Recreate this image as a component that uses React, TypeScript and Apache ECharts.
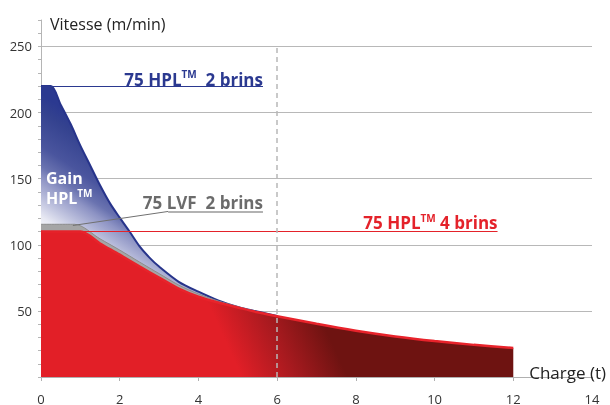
import React, { useEffect, useRef } from 'react';
import * as echarts from 'echarts';

const FONT = '"Open Sans", "Noto Sans", sans-serif';

// x axis (Charge, t) and y axis (Vitesse, m/min)
const xMin = 0;
const xMax = 14;
const xStep = 2;
const yMax = 270;
const yMinorStep = 10;
const yLabelStep = 50;
const yLabelTop = 250;

// 75 HPL(TM) 2 brins
const blueX = [0, 0.25, 0.5, 0.75, 1, 1.25, 1.5, 1.75, 2, 2.25, 2.5, 2.75, 3, 3.5, 4, 4.5, 5, 5.5, 6];
const blueY = [220, 220, 206, 191.5, 175, 160, 145, 131.5, 120.5, 110, 99, 90.5, 83.5, 72, 64.5, 58, 53, 49.5, 46.2];
// 75 LVF 2 brins
const grayX = [0, 0.85, 1.5, 2, 2.5, 3, 3.5, 4, 4.5, 5, 5.5];
const grayY = [115.5, 115.5, 104.5, 96, 87, 78.2, 69.5, 62.8, 57.5, 53.2, 49.3];
// 75 HPL(TM) 4 brins
const redX = [0, 1, 1.5, 2, 2.5, 3, 3.5, 4, 4.5, 5, 5.5, 6, 7, 8, 9, 10, 11, 12];
const redY = [110, 110, 101, 92.5, 83.7, 75.2, 66.8, 60.7, 56.3, 52.6, 49, 46, 40.2, 35, 30.7, 27.2, 24.3, 22];

// leader lines of the labels
const blueLeader = [[0, 220], [5.64, 220]];
const redLeader = [[0, 110], [11.6, 110]];
const grayLeader = [[0.81, 114.6], [3.23, 125.2], [5.64, 125.2]];
const refX = 6;
const refTop = 250;

// label texts: [before superscript, superscript, after]
const blueLabel = ['75 HPL', 'TM', '  2 brins'];
const grayLabel = ['75 LVF  2 brins', '', ''];
const redLabel = ['75 HPL', 'TM', ' 4 brins'];

// gradient directions (start, end) in chart coordinates
const blueGrad = [[0, 111.1], [1.61, 181.5]];
const redGrad = [[5.13, -2.2], [7.36, 28.1]];
const blueStops = [
  [0, '#f8f8fc'], [0.1, '#e8e9f3'], [0.2, '#c8cbe3'], [0.39, '#8d93c4'],
  [0.47, '#6a73b0'], [0.62, '#4a559e'], [0.88, '#34428f'], [1, '#2b3990'],
];
const redStops = [[0, '#e21f27'], [0.5, '#a81a1f'], [1, '#6e1311']];

const pairs = (xs: number[], ys: number[]) => xs.map((x, i) => [x, ys[i]]);

export default function App() {
  const ref = useRef<HTMLDivElement>(null);
  useEffect(() => {
    if (!ref.current) return;
    const chart = echarts.init(ref.current, null, { renderer: 'svg' });
    const seg = (a: number[], b: number[], lineStyle: any) => [{ coord: a, lineStyle }, { coord: b, lineStyle }];
    chart.setOption({
      animation: false,
      grid: { left: 41, right: 18, top: 20, bottom: 20, containLabel: false },
      xAxis: {
        type: 'value',
        min: xMin,
        max: xMax,
        interval: xStep,
        axisLine: { lineStyle: { color: '#b0b0b0', width: 1 } },
        axisTick: { show: true, length: 4, lineStyle: { color: '#b0b0b0' } },
        axisLabel: { margin: 15, fontSize: 13, color: '#333', fontFamily: FONT },
        splitLine: { show: false },
      },
      yAxis: [
        {
          type: 'value',
          min: 0,
          max: yMax,
          interval: yMinorStep,
          axisLine: { show: true, lineStyle: { color: '#b5b5b5', width: 1 } },
          axisTick: { show: true, length: 3, lineStyle: { color: '#b5b5b5' } },
          axisLabel: {
            margin: 9,
            fontSize: 13,
            color: '#333',
            fontFamily: FONT,
            formatter: (v: number) => (v > 0 && v <= yLabelTop && v % yLabelStep === 0 ? String(v) : ''),
          },
          splitLine: { show: false },
        },
        {
          type: 'value',
          position: 'left',
          min: 0,
          max: yMax,
          interval: yLabelStep,
          axisLine: { show: false },
          axisTick: { show: false },
          axisLabel: { show: false },
          splitLine: { show: true, showMinLine: false, showMaxLine: false, lineStyle: { color: '#b8b8b8', width: 1 } },
        },
      ],
      series: [
        {
          id: 'blue',
          type: 'line',
          data: pairs(blueX, blueY),
          smooth: 0.3,
          symbol: 'none',
          lineStyle: { color: '#27348b', width: 2 },
          areaStyle: { opacity: 1, color: '#6a73b0' },
          markLine: {
            silent: true,
            symbol: ['none', 'none'],
            label: { show: false },
            lineStyle: { type: 'solid', color: '#2b3990', width: 1 },
            data: [seg(blueLeader[0], blueLeader[1], { type: 'solid', color: '#2b3990', width: 1 })],
          },
        },
        {
          id: 'gray',
          type: 'line',
          data: pairs(grayX, grayY),
          smooth: 0.3,
          symbol: 'none',
          lineStyle: { color: '#8c8c8c', width: 1 },
          areaStyle: { opacity: 1, color: '#a5a5a5' },
          markLine: {
            silent: true,
            symbol: ['none', 'none'],
            label: { show: false },
            lineStyle: { type: 'solid', color: '#808080', width: 1 },
            data: [
              seg(grayLeader[0], grayLeader[1], { type: 'solid', color: '#707070', width: 1 }),
              seg(grayLeader[1], grayLeader[2], { type: 'solid', color: '#999', width: 1.5 }),
            ],
          },
        },
        {
          id: 'red',
          type: 'line',
          data: pairs(redX, redY),
          smooth: 0.3,
          symbol: 'none',
          lineStyle: { color: '#e8232b', width: 2.5 },
          areaStyle: { opacity: 1, color: '#e21f27' },
          markLine: {
            silent: true,
            symbol: ['none', 'none'],
            label: { show: false },
            lineStyle: { type: 'solid', color: '#e4222a', width: 1.2, opacity: 1 },
            data: [
              seg(redLeader[0], redLeader[1], { type: 'solid', color: '#e4222a', width: 1.2, opacity: 1 }),
              seg([refX, 0], [refX, refTop], { type: [5, 4], color: '#b8b8b8', width: 1.5 }),
            ],
          },
        },
      ],
    });

    const px = (p: number[]) => chart.convertToPixel({ gridIndex: 0 }, p) as number[];
    const gradient = (g: number[][], stops: any[]) => {
      const a = px(g[0]);
      const b = px(g[1]);
      return {
        type: 'linear', global: true,
        x: a[0], y: a[1], x2: b[0], y2: b[1],
        colorStops: stops.map((s) => ({ offset: s[0], color: s[1] })),
      };
    };
    const bEnd = px(blueLeader[1]);
    const gEnd = px(grayLeader[2]);
    const rEnd = px(redLeader[1]);
    const labelText = (p: number[], parts: string[], color: string, lift: number) => {
      const text = parts[1]
        ? `{a|${parts[0]}}{t|${parts[1]}}{a|${parts[2]}}`
        : `{a|${parts[0]}}`;
      return {
        type: 'text',
        z: 100,
        x: p[0],
        y: p[1] + lift,
        style: {
          text,
          align: 'right',
          verticalAlign: 'bottom',
          rich: {
            a: { fill: color, fontFamily: FONT, fontWeight: 'bold', fontSize: 17, lineHeight: 20 },
            t: { fill: color, fontFamily: FONT, fontWeight: 'bold', fontSize: 10, lineHeight: 16, verticalAlign: 'top' },
          },
        },
      };
    };

    chart.setOption({
      series: [
        { id: 'blue', areaStyle: { opacity: 1, color: gradient(blueGrad, blueStops) } },
        { id: 'gray' },
        { id: 'red', areaStyle: { opacity: 1, color: gradient(redGrad, redStops) } },
      ],
      graphic: [
        labelText(bEnd, blueLabel, '#2b3990', 3),
        labelText(gEnd, grayLabel, '#6b6b6b', 1),
        labelText(rEnd, redLabel, '#e4222a', 1),
        {
          type: 'text',
          z: 100,
          left: 50,
          top: 16,
          style: { text: 'Vitesse (m/min)', fontFamily: FONT, fontSize: 16, fill: '#222' },
        },
        {
          type: 'text',
          z: 100,
          right: 4,
          top: 364,
          style: { text: 'Charge (t)', fontFamily: FONT, fontSize: 17, fill: '#222' },
        },
        {
          type: 'text',
          z: 100,
          left: 46,
          top: 170,
          style: {
            text: '{g|Gain}\n{g|HPL}{s|TM}',
            rich: {
              g: { fill: '#ffffff', fontFamily: FONT, fontWeight: 'bold', fontSize: 16, lineHeight: 20 },
              s: { fill: '#ffffff', fontFamily: FONT, fontWeight: 'bold', fontSize: 10, lineHeight: 15, verticalAlign: 'top' },
            },
          },
        },
      ],
    });
    return () => chart.dispose();
  }, []);
  return <div ref={ref} style={{ position: 'fixed', left: 0, top: 0, width: 610, height: 405 }} />;
}
